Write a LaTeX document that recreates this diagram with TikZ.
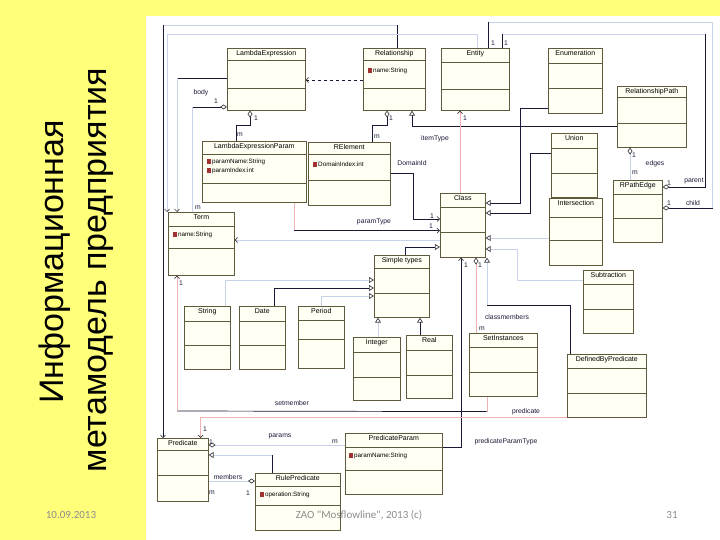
\documentclass[tikz,border=0pt]{standalone}
\usepackage{fontspec}
\setmainfont{Liberation Sans}
\newfontfamily\slidefoot{Carlito}
\usetikzlibrary{arrows.meta}

\definecolor{slideyellow}{RGB}{255,255,122}
\definecolor{boxfill}{RGB}{255,255,243}
\definecolor{boxline}{RGB}{95,90,60}
\definecolor{dkcol}{RGB}{25,25,55}
\definecolor{pkcol}{RGB}{240,178,178}
\definecolor{pbcol}{RGB}{200,210,234}
\definecolor{attrred}{RGB}{160,50,50}
\newcommand{\attrib}[1]{{\color{attrred}\rule[-0.5pt]{3.5pt}{5pt}}\hspace{1.5pt}#1}

\tikzset{
  cls/.style={draw=boxline, fill=boxfill, anchor=north west, inner sep=0pt, line width=0.6pt},
  ttl/.style={anchor=north, inner sep=2pt, font=\fontsize{7}{8}\selectfont, text=black},
  sepline/.style={draw=boxline, line width=0.6pt},
  attrtxt/.style={anchor=west, inner sep=0pt, font=\fontsize{6.3}{7}\selectfont},
  lbl/.style={font=\fontsize{6.8}{7}\selectfont, text=dkcol, inner sep=0pt},
  foot/.style={font=\slidefoot\fontsize{11}{13}\selectfont, text=black!45, inner sep=0pt},
  darkline/.style={draw=dkcol, line width=0.7pt},
  pinkline/.style={draw=pkcol, line width=0.7pt},
  paleline/.style={draw=pbcol, line width=0.7pt},
  gen/.style={-{Triangle[open, length=5pt, width=6pt, color=black!75]}},
  nav/.style={-{Straight Barb[length=2.5pt, width=5pt, color=black!75]}},
  agg/.style={{Diamond[open, length=7pt, width=5pt, color=black!75]}-}
}

\begin{document}
\begin{tikzpicture}[x=1pt, y=-1pt]
    % Background
    \fill[slideyellow] (0,0) rectangle (720,540);
    \fill[white] (146,16) rectangle (720,540);
    \useasboundingbox (0,0) rectangle (720,540);

    % Title
    \node[rotate=90, anchor=base, font=\fontsize{34}{40}\selectfont] (title1) at (63,262) {Информационная};
    \node[rotate=90, anchor=base, font=\fontsize{34}{40}\selectfont] (title2) at (106,270) {метамодель предприятия};

    % Classes
    \foreach \n/\t/\x/\y/\w/\h in {
        LambdaExpression/LambdaExpression/227/48/78/62,
        Relationship/Relationship/363/48/62/62,
        Entity/Entity/441/48/68/62,
        Enumeration/Enumeration/548/48/54/65,
        RelationshipPath/RelationshipPath/617/86/69/61,
        LambdaExpressionParam/LambdaExpressionParam/202/141/104/61,
        RElement/RElement/308/142/82/63,
        Union/Union/551/133/46/64,
        RPathEdge/RPathEdge/613/180/49/62,
        Intersection/Intersection/549/198/53/67,
        Class/Class/440/193/45/64,
        Term/Term/168/212/66/63,
        SimpleTypes/Simple types/374/255/55/62,
        Subtraction/Subtraction/583/270/50/63,
        String/String/184/306/46/63,
        Date/Date/239/306/46/63,
        Period/Period/298/306/46/62,
        Integer/Integer/353/337/47/63,
        Real/Real/406/335/46/63,
        SetInstances/SetInstances/469/333/68/63,
        DefinedByPredicate/DefinedByPredicate/567/354/79/63,
        Predicate/Predicate/157/438/51/63,
        PredicateParam/PredicateParam/345/433/97/61,
        RulePredicate/RulePredicate/255/473/85/57}
        \node[cls, minimum width=\w pt, minimum height=\h pt, label={[ttl]north:\t}] (\n) at (\x,\y) {};

    \foreach \n/\a/\b in {LambdaExpression/60/88, Relationship/60/88, Entity/62/89,
        Enumeration/63/88, RelationshipPath/97/123, LambdaExpressionParam/154/183,
        RElement/154/180, Union/148/173, RPathEdge/194/218, Intersection/217/240,
        Class/207/232, Term/226/248, SimpleTypes/268/293, Subtraction/284/309,
        String/321/345, Date/321/345, Period/320/339, Integer/352/377, Real/350/375,
        SetInstances/347/372, DefinedByPredicate/368/393, Predicate/450/475,
        PredicateParam/447/470, RulePredicate/486/505}
        \draw[sepline] (\n.west |- 0,\a) -- (\n.east |- 0,\a) (\n.west |- 0,\b) -- (\n.east |- 0,\b);

    % Attributes
    \node[attrtxt] (Relationship-name) at (368,71) {\attrib{name:String}};
    \node[attrtxt] (LambdaExpressionParam-name) at (207,162) {\attrib{paramName:String}};
    \node[attrtxt] (LambdaExpressionParam-index) at (207,171) {\attrib{paramIndex:int}};
    \node[attrtxt] (RElement-index) at (313,164) {\attrib{DomainIndex:int}};
    \node[attrtxt] (Term-name) at (173,235) {\attrib{name:String}};
    \node[attrtxt] (PredicateParam-name) at (349,456) {\attrib{paramName:String}};
    \node[attrtxt] (RulePredicate-op) at (260,495) {\attrib{operation:String}};

    % Edges
    \coordinate (topA) at (397,25);
    \coordinate (topB) at (163,25);
    \coordinate (topC) at (167,34);
    \coordinate (topD) at (488,22);
    \coordinate (topE) at (502,34);
    \coordinate (topF) at (705,34);
    \coordinate (dbpBend) at (487,305);
    \coordinate (smBend2) at (177,411);

    \draw[darkline] (Relationship.north -| topA) -- (topA);
    \draw[paleline] (topA) -- (topB);
    \draw[darkline, nav] (topB) -- (Predicate.north -| topB);
    \draw[paleline, nav] (Entity.north -| 477,0) |- (topC) -- (Term.north -| topC);

    \draw[darkline] (LambdaExpression.west |- 0,78) -- ++(-50,0) coordinate (lamBend);
    \draw[paleline, nav] (lamBend) -- (Term.north -| lamBend);
    \draw[darkline, agg] (LambdaExpression.west |- 0,107) -- ++(-35,0) coordinate (bodyBend);
    \draw[paleline] (bodyBend) -- (Term.north -| bodyBend);
    \draw[darkline, agg] (LambdaExpression.south -| 250,0) -- ++(0,15) -| (LambdaExpressionParam.north -| 236,0);

    \draw[darkline, dashed, nav] (Relationship.west |- 0,80) -- (LambdaExpression.east |- 0,80);
    \draw[darkline, agg] (Relationship.south -| 387,0) -- ++(0,15) -| (RElement.north -| 372,0);
    \draw[darkline, gen] (RelationshipPath.west |- 0,126) -| (Relationship.south -| 412,0);
    \draw[pinkline, nav] (Class.north -| 460,0) -- (Entity.south -| 460,0);

    \draw[darkline, gen] (Enumeration.west |- 0,108) -- ++(-28,0) |- (Class.east |- 0,203);
    \draw[darkline, gen] (Union.west |- 0,153) -- ++(-21,0) |- (Class.east |- 0,213);
    \draw[paleline, gen] (Intersection.west |- 0,238) -- (Class.east |- 0,238);
    \draw[paleline, gen] (Subtraction.west |- 0,280) -- ++(-66,0) |- (Class.east |- 0,249);

    \draw[paleline, agg] (RelationshipPath.south -| 630,0) -- (RPathEdge.north -| 630,0);
    \draw[darkline, agg] (RPathEdge.east |- 0,187) -| (topF);
    \draw[paleline] (topF) -- (topE);
    \draw[darkline] (topE) -- (Entity.north -| topE);
    \draw[darkline, agg] (RPathEdge.east |- 0,208) -- ++(50,0) coordinate (childBend);
    \draw[paleline] (childBend) |- (topD);
    \draw[darkline] (topD) -- (Entity.north -| topD);

    \draw[darkline, nav] (RElement.east |- 0,173) -- ++(23,0) |- (Class.west |- 0,219);
    \draw[pinkline] (LambdaExpressionParam.south -| 294,0) -- ++(0,28) coordinate (ptBend);
    \draw[darkline, nav] (ptBend) -- (Class.west |- ptBend);
    \draw[darkline, gen] (SimpleTypes.north -| 405,0) |- (Class.west |- 0,247);
    \draw[paleline, nav] (Class.west |- 0,240) -- (Term.east |- 0,240);

    \draw[paleline, gen] (String.north -| 225,0) |- (SimpleTypes.west |- 0,280);
    \draw[darkline, gen] (Date.north -| 274,0) |- (SimpleTypes.west |- 0,288);
    \draw[paleline, gen] (Period.north -| 321,0) |- (SimpleTypes.west |- 0,296);
    \draw[paleline, gen] (Integer.north -| 378,0) -- (SimpleTypes.south -| 378,0);
    \draw[darkline, gen] (Real.north -| 420,0) -- (SimpleTypes.south -| 420,0);

    \draw[darkline, nav] (PredicateParam.east |- 0,447) -| (Class.south -| 461,0);
    \draw[pinkline, agg] (Class.south -| 476,0) -- (SetInstances.north -| 476,0);
    \draw[darkline] (DefinedByPredicate.north -| 570,0) |- (dbpBend);
    \draw[paleline, gen] (dbpBend) -- (Class.south -| dbpBend);

    \draw[pinkline] (SetInstances.south -| 487,0) -- ++(0,15) coordinate (smBend);
    \draw[darkline] (smBend) -- (smBend2);
    \draw[pinkline, nav] (smBend2) -- (Term.south -| smBend2);
    \draw[pinkline, nav] (DefinedByPredicate.south west) -| ([xshift=-8pt]Predicate.north east);

    \draw[paleline, agg] (Predicate.east |- 0,445) -- (PredicateParam.west |- 0,445);
    \draw[darkline] (RulePredicate.north -| 272,0) -- ++(0,-18) coordinate (rpBend);
    \draw[paleline, gen] (rpBend) -- (Predicate.east |- rpBend);
    \draw[paleline, agg] (RulePredicate.west |- 0,481) -- (Predicate.east |- 0,481);

    % Edge labels
    \node[lbl] (l-body) at (201,93) {body};
    \node[lbl] (l-body1) at (216,101) {1};
    \node[lbl] (l-bodym) at (198,208) {m};
    \node[lbl] (l-lep1) at (256,118) {1};
    \node[lbl] (l-lepm) at (240,135) {m};
    \node[lbl] (l-rel1) at (391,118) {1};
    \node[lbl] (l-relm) at (377,137) {m};
    \node[lbl] (l-ent1) at (465,118) {1};
    \node[lbl] (l-itemType) at (435,139) {itemType};
    \node[lbl] (l-DomainId) at (412,163) {DomainId};
    \node[lbl] (l-dom1) at (432,216) {1};
    \node[lbl] (l-par1) at (431,226) {1};
    \node[lbl] (l-paramType) at (374,222) {paramType};
    \node[lbl] (l-term1) at (181,283) {1};
    \node[lbl] (l-cls1) at (466,265) {1};
    \node[lbl] (l-cls2) at (480,265) {1};
    \node[lbl] (l-classmembers) at (507,317) {classmembers};
    \node[lbl] (l-cmm) at (482,329) {m};
    \node[lbl] (l-setmember) at (292,403) {setmember};
    \node[lbl] (l-predicate) at (526,412) {predicate};
    \node[lbl] (l-pred1) at (205,429) {1};
    \node[lbl] (l-params1) at (211,442) {1};
    \node[lbl] (l-params) at (280,436) {params};
    \node[lbl] (l-paramsm) at (335,442) {m};
    \node[lbl] (l-members) at (228,477) {members};
    \node[lbl] (l-membersm) at (212,493) {m};
    \node[lbl] (l-members1) at (248,493) {1};
    \node[lbl] (l-ppt) at (506,442) {predicateParamType};
    \node[lbl] (l-edges1) at (634,155) {1};
    \node[lbl] (l-edges) at (655,164) {edges};
    \node[lbl] (l-edgesm) at (635,173) {m};
    \node[lbl] (l-parent1) at (669,183) {1};
    \node[lbl] (l-parent) at (694,181) {parent};
    \node[lbl] (l-child1) at (669,203) {1};
    \node[lbl] (l-child) at (693,203) {child};
    \node[lbl] (l-ent2) at (493,43) {1};
    \node[lbl] (l-ent3) at (506,43) {1};

    % Footer
    \node[foot] (date) at (71,515) {10.09.2013};
    \node[foot] (footer) at (359,515) {ZAO "Mosflowline", 2013 (c)};
    \node[foot] (pageno) at (672,515) {31};
\end{tikzpicture}
\end{document}
